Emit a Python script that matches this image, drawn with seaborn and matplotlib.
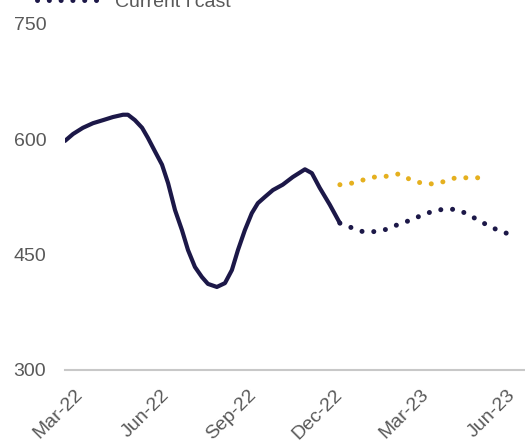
import matplotlib
matplotlib.use("Agg")
import matplotlib.pyplot as plt
import seaborn as sns
from matplotlib.lines import Line2D

# ---- data (x = months after Mar-22) ----
actual_x = [-0.52, -0.24, 0.10, 0.45, 0.80, 1.14, 1.49, 1.66, 1.90, 2.15, 2.35, 2.60,
            2.84, 3.05, 3.29, 3.53, 3.74, 3.98, 4.22, 4.43, 4.74, 5.02, 5.26, 5.47,
            5.71, 5.95, 6.16, 6.40, 6.68, 7.02, 7.37, 7.79, 8.03, 8.30, 8.65, 9.00]
actual_y = [598, 607, 615, 621, 625, 629, 632, 632, 625, 615, 602, 584,
            567, 543, 508, 482, 456, 434, 421, 412, 408, 413, 430, 456,
            482, 504, 517, 525, 534, 541, 551, 561, 556, 537, 515, 491]

current_x = [9.0, 9.41, 9.79, 10.21, 10.62, 11.0, 11.38, 11.76, 12.18, 12.56,
             12.98, 13.36, 13.74, 14.08, 14.46, 14.84]
current_y = [491, 485, 480, 480, 483, 489, 494, 500, 506, 509,
             509, 504, 496, 489, 482, 477]

previous_x = [9.0, 9.41, 9.79, 10.21, 10.62, 11.04, 11.42, 11.83, 12.21, 12.6,
              13.01, 13.39, 13.81]
previous_y = [541, 543, 547, 551, 552, 555, 548, 543, 542, 545,
              550, 550, 550]

tick_pos = [0, 3, 6, 9, 12, 15]
tick_labels = ["Mar-22", "Jun-22", "Sep-22", "Dec-22", "Mar-23", "Jun-23"]
y_ticks = [300, 450, 600, 750]

NAVY = "#1c1848"
GOLD = "#e5b01f"
GREY = "#595959"

sns.set_style("white")
plt.rcParams["font.family"] = ["Liberation Sans", "DejaVu Sans"]

fig = plt.figure(figsize=(5.25, 4.43), dpi=100)
ax = fig.add_axes([65 / 525, (443 - 370) / 443, 477 / 525, 346 / 443])

dot_style = (0, (0.01, 2.35))
sns.lineplot(x=actual_x, y=actual_y, ax=ax, color=NAVY, linewidth=3.0,
             solid_capstyle="round", solid_joinstyle="round")
sns.lineplot(x=previous_x, y=previous_y, ax=ax, color=GOLD, linewidth=3.6,
             linestyle=dot_style, dash_capstyle="round")
sns.lineplot(x=current_x, y=current_y, ax=ax, color=NAVY, linewidth=3.6,
             linestyle=dot_style, dash_capstyle="round")

ax.set_xlim(-0.52, 16.0)
ax.set_ylim(300, 750)
ax.set_yticks(y_ticks)
ax.set_yticklabels([str(v) for v in y_ticks])
ax.set_xticks(tick_pos)
ax.set_xticklabels(tick_labels, rotation=45, ha="right", va="center",
                   rotation_mode="anchor")
ax.tick_params(axis="y", length=0, pad=13.5, labelsize=14, labelcolor=GREY)
ax.tick_params(axis="x", length=0, pad=16, labelsize=14, labelcolor=GREY)

for s in ["left", "top", "right"]:
    ax.spines[s].set_visible(False)
ax.spines["bottom"].set_color("#c8c8c8")
ax.spines["bottom"].set_linewidth(1.5)
ax.grid(False)

handle = Line2D([], [], color=NAVY, linewidth=3.6, linestyle=dot_style,
                dash_capstyle="round")
fig.legend([handle], ["Current f'cast"], loc="center left",
           bbox_to_anchor=(37 / 525, 1 - 2 / 443), frameon=False,
           fontsize=14, labelcolor=GREY, handlelength=3.4, handletextpad=0.6,
           borderpad=0, borderaxespad=0)

fig.savefig("out.png", dpi=100)
